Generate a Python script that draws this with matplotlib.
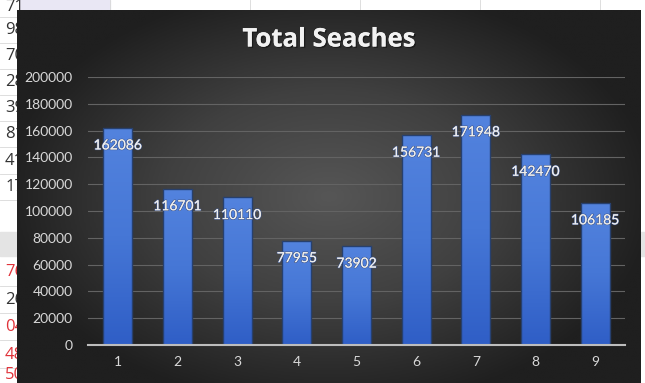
import matplotlib
matplotlib.use('Agg')
import matplotlib.pyplot as plt
import matplotlib.patheffects as pe
import numpy as np
from matplotlib.colors import LinearSegmentedColormap

categories = ['1', '2', '3', '4', '5', '6', '7', '8', '9']
searches = [162086, 116701, 110110, 77955, 73902, 156731, 171948, 142470, 106185]
yticks = [0, 20000, 40000, 60000, 80000, 100000, 120000, 140000, 160000, 180000, 200000]

# bits of the spreadsheet peeking out on the left
sheet_cells = ['71', '98', '70', '28', '39', '81', '41', '17', '76', '26', '04', '48', '50']
sheet_colors = ['#333333'] * 8 + ['#e0333a', '#333333', '#e0333a', '#e0333a', '#e0333a']

plt.rcParams['font.family'] = ['Lato', 'DejaVu Sans']

W, H = 645, 383
fig = plt.figure(figsize=(W / 100, H / 100), dpi=100)
fig.patch.set_facecolor('white')

# spreadsheet layer
sheet = fig.add_axes([0, 0, 1, 1])
sheet.set_xlim(0, W)
sheet.set_ylim(H, 0)
sheet.axis('off')
sheet.axhspan(0, 10, xmin=20 / W, xmax=110 / W, color='#e9e7f4')
sheet.axhspan(232, 256, color='#e4e4e4')
row_y = [7, 30, 56, 82, 108, 134, 161, 187, 272, 300, 327, 355, 375]
for txt, y, c in zip(sheet_cells, row_y, sheet_colors):
    sheet.text(24, y, txt, ha='right', va='center', fontsize=12, color=c,
               family=['Open Sans', 'DejaVu Sans'])
for y in [17, 43, 69, 95, 121, 147, 174, 200, 286, 313, 340, 368]:
    sheet.axhline(y, xmin=0, xmax=20 / W, color='#d8d8d8', lw=0.6)
for x in [110, 250, 360, 480, 600]:
    sheet.plot([x, x], [0, 10], color='#d8d8d8', lw=0.6)

# dark chart background with radial shading
bg = fig.add_axes([17 / W, 0, (641 - 17) / W, (H - 10) / H])
bg.axis('off')
gx, gy = np.meshgrid(np.linspace(-1, 1, 300), np.linspace(-1, 1, 200))
r = np.clip(np.sqrt((gx / 1.05) ** 2 + (gy / 1.15) ** 2), 0, 1)
cmap = LinearSegmentedColormap.from_list('bg', ['#565656', '#404040', '#1f1f1f'])
bg.imshow(r, cmap=cmap, aspect='auto', extent=[0, 1, 0, 1], vmin=0, vmax=1)
bg.set_xlim(0, 1)
bg.set_ylim(0, 1)

fig.text(329 / W, 1 - 39 / H, 'Total Seaches', ha='center', va='center',
         fontsize=18.5, fontweight='bold', color='#f2f2f2',
         family=['Open Sans', 'DejaVu Sans'],
         path_effects=[pe.withSimplePatchShadow(offset=(1, -1), shadow_rgbFace='black', alpha=0.4), pe.Normal()])

ax = fig.add_axes([88 / W, (H - 345) / H, (625 - 88) / W, (345 - 77) / H])
ax.patch.set_alpha(0)
x = np.arange(len(categories))
bars = ax.bar(x, searches, width=0.49, color='none', edgecolor='#27406e', lw=1.0, zorder=3)

# vertical blue gradient inside each bar
bar_cmap = LinearSegmentedColormap.from_list('bar', ['#2f5ec6', '#4677d6', '#5383de'])
grad = np.linspace(0, 1, 256).reshape(-1, 1)
for b in bars:
    x0, y0 = b.get_x(), b.get_y()
    im = ax.imshow(grad, cmap=bar_cmap, origin='lower', aspect='auto',
                   extent=[x0, x0 + b.get_width(), y0, y0 + b.get_height()], zorder=2.5)
    im.set_clip_path(b)

ax.bar_label(bars, labels=[str(v) for v in searches], padding=-17,
             color='#eeeeee', fontsize=10, zorder=4,
             path_effects=[pe.withStroke(linewidth=1.0, foreground='#44598a'), pe.Normal()])

ax.set_xlim(-0.5, len(categories) - 0.5)
ax.set_ylim(0, 200000)
ax.set_yticks(yticks)
ax.set_yticklabels([str(t) for t in yticks])
ax.set_xticks(x)
ax.set_xticklabels(categories)
ax.tick_params(axis='both', length=0, colors='#d9d9d9', labelsize=10)
ax.tick_params(axis='y', pad=11)
ax.tick_params(axis='x', pad=8)
ax.grid(axis='y', color='#636363', lw=0.8, zorder=0)
for s in ['top', 'right', 'left']:
    ax.spines[s].set_visible(False)
ax.spines['bottom'].set_color('#bdbdbd')
ax.spines['bottom'].set_linewidth(1.5)
ax.spines['bottom'].set_zorder(5)

plt.savefig('out.png', dpi=100)
